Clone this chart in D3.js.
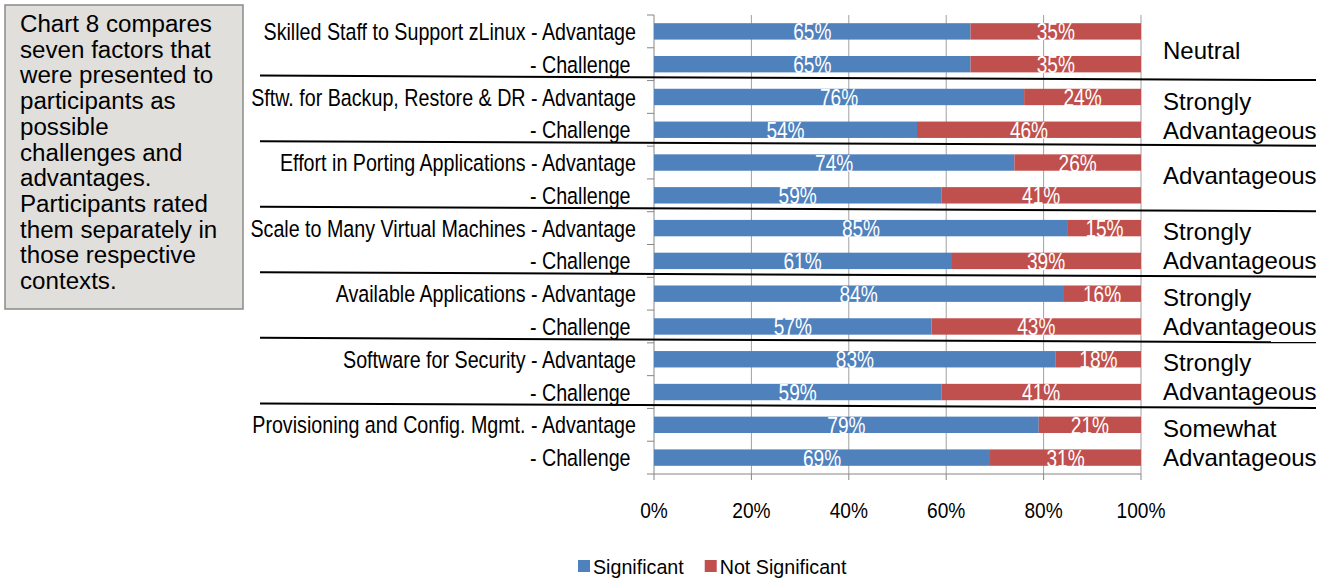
<!DOCTYPE html>
<html>
<head>
<meta charset="utf-8">
<script src="https://cdn.jsdelivr.net/npm/d3@7"></script>
<style>
  html, body { margin: 0; padding: 0; background: #ffffff; }
  svg { display: block; }
  text { font-family: "Liberation Sans", Arial, Helvetica, sans-serif; }
</style>
</head>
<body>
<svg id="chart" width="1333" height="579"></svg>
<script>
// ---------------- data ----------------
const categories = [
  "Skilled Staff to Support zLinux",
  "Sftw. for Backup, Restore & DR",
  "Effort in Porting Applications",
  "Scale to Many Virtual Machines",
  "Available Applications",
  "Software for Security",
  "Provisioning and Config. Mgmt."
];
const advantageSignificant    = [65, 76, 74, 85, 84, 82.5, 79];
const advantageNotSignificant = [35, 24, 26, 15, 16, 17.5, 21];
const challengeSignificant    = [65, 54, 59, 61, 57, 59, 69];
const challengeNotSignificant = [35, 46, 41, 39, 43, 41, 31];
const verdicts = [
  ["Neutral"],
  ["Strongly", "Advantageous"],
  ["Advantageous"],
  ["Strongly", "Advantageous"],
  ["Strongly", "Advantageous"],
  ["Strongly", "Advantageous"],
  ["Somewhat", "Advantageous"]
];
const xTicks = [0, 20, 40, 60, 80, 100];
const seriesNames = ["Significant", "Not Significant"];
const noteLines = [
  "Chart 8 compares",
  "seven factors that",
  "were presented to",
  "participants as",
  "possible",
  "challenges and",
  "advantages.",
  "Participants rated",
  "them separately in",
  "those respective",
  "contexts."
];

// ---------------- layout ----------------
const colors = ["#4f81bd", "#c0504d"];
const svg = d3.select("#chart");

const rows = categories.flatMap((c, i) => [
  { id: "a" + i, label: c + " - Advantage", sig: advantageSignificant[i], not: advantageNotSignificant[i] },
  { id: "c" + i, label: "- Challenge\u00a0", sig: challengeSignificant[i], not: challengeNotSignificant[i] }
]);

const x = d3.scaleLinear().domain([0, 100]).range([654, 1141]);
const y = d3.scaleBand().domain(rows.map(r => r.id)).range([15, 474])
  .paddingInner(0.5).paddingOuter(0.25);
const step = y.step();
const top0 = y.range()[0];

function label(g, px, py, str, size, sx, anchor, fill) {
  return g.append("text")
    .attr("transform", `translate(${px},${py}) scale(${sx},1)`)
    .attr("text-anchor", anchor)
    .attr("font-size", size)
    .attr("fill", fill)
    .text(str);
}

// note box
const note = svg.append("g");
note.append("rect").attr("x", 5).attr("y", 5).attr("width", 238).attr("height", 304)
  .attr("fill", "#e0dfdc").attr("stroke", "#8a8a8a").attr("stroke-width", 1.5);
noteLines.forEach((t, i) => label(note, 20, 32 + i * 25.7, t, 23, 1.05, "start", "#000"));

// gridlines
const grid = svg.append("g");
grid.selectAll("line").data(xTicks.slice(1)).join("line")
  .attr("x1", d => x(d)).attr("x2", d => x(d))
  .attr("y1", top0).attr("y2", 474)
  .attr("stroke", "#a0a0a0").attr("stroke-width", 1);

// y axis line + ticks at band boundaries
const yAxisG = svg.append("g");
yAxisG.append("line").attr("x1", x(0)).attr("x2", x(0)).attr("y1", top0).attr("y2", 474)
  .attr("stroke", "#868686");
yAxisG.selectAll("line.tk").data(d3.range(rows.length + 1)).join("line").attr("class", "tk")
  .attr("x1", x(0) - 7).attr("x2", x(0))
  .attr("y1", k => top0 + k * step).attr("y2", k => top0 + k * step)
  .attr("stroke", "#868686");

// bars
const stacked = d3.stack().keys(["sig", "not"])(rows);
const barsG = svg.append("g");
stacked.forEach((layer, li) => {
  barsG.append("g").selectAll("rect").data(layer).join("rect")
    .attr("x", d => x(d[0]))
    .attr("width", d => x(d[1]) - x(d[0]))
    .attr("y", d => y(d.data.id))
    .attr("height", y.bandwidth())
    .attr("fill", colors[li]);
});
// bar value labels
stacked.forEach((layer) => {
  layer.forEach(d => {
    const cx = (x(d[0]) + x(d[1])) / 2;
    const cy = y(d.data.id) + y.bandwidth() / 2;
    label(barsG, cx, cy + 9, Math.round(d[1] - d[0]) + "%", 23, 0.83, "middle", "#ffffff");
  });
});

// x axis
const xAxisG = svg.append("g");
xAxisG.append("line").attr("x1", x(0)).attr("x2", x(100)).attr("y1", 474).attr("y2", 474)
  .attr("stroke", "#868686");
xAxisG.selectAll("line.tk").data(xTicks).join("line").attr("class", "tk")
  .attr("x1", d => x(d)).attr("x2", d => x(d)).attr("y1", 474).attr("y2", 480)
  .attr("stroke", "#868686");
xTicks.forEach(t => label(xAxisG, x(t), 518, t + "%", 22, 0.87, "middle", "#000"));

// category labels
const catG = svg.append("g");
rows.forEach(r => {
  label(catG, 636, y(r.id) + y.bandwidth() / 2 + 8.6, r.label, 23.3, 0.845, "end", "#000");
});

// separators between pairs
const sepG = svg.append("g");
sepG.selectAll("line").data(d3.range(1, categories.length)).join("line")
  .attr("x1", 260).attr("x2", 1316)
  .attr("y1", k => top0 + 2 * k * step - 5)
  .attr("y2", k => top0 + 2 * k * step - 0.5)
  .attr("stroke", "#000").attr("stroke-width", 2);

// verdict labels on the right
const verdictG = svg.append("g");
const singleNudge = [3.5, 0, -2.5, 0, 0, 0, 0];
verdicts.forEach((lines, i) => {
  const pc = top0 + (2 * i + 1) * step;
  if (lines.length === 1) {
    label(verdictG, 1163, pc + 8 + singleNudge[i], lines[0], 23, 1.045, "start", "#000");
  } else {
    label(verdictG, 1163, pc - 4.5 + (i === 1 ? 1.5 : 0), lines[0], 23, 1.045, "start", "#000");
    label(verdictG, 1163, pc + 24.5 + (i === 1 ? 1.5 : 0), lines[1], 23, 1.045, "start", "#000");
  }
});

// legend
const legG = svg.append("g");
let lx = 578;
seriesNames.forEach((name, i) => {
  legG.append("rect").attr("x", lx).attr("y", 560).attr("width", 12).attr("height", 12)
    .attr("fill", colors[i]);
  const t = label(legG, lx + 15, 574, name, 20.5, 0.96, "start", "#000");
  const w = t.node().getComputedTextLength() * 0.96;
  lx = lx + 15 + w + 21;
});
</script>
</body>
</html>
